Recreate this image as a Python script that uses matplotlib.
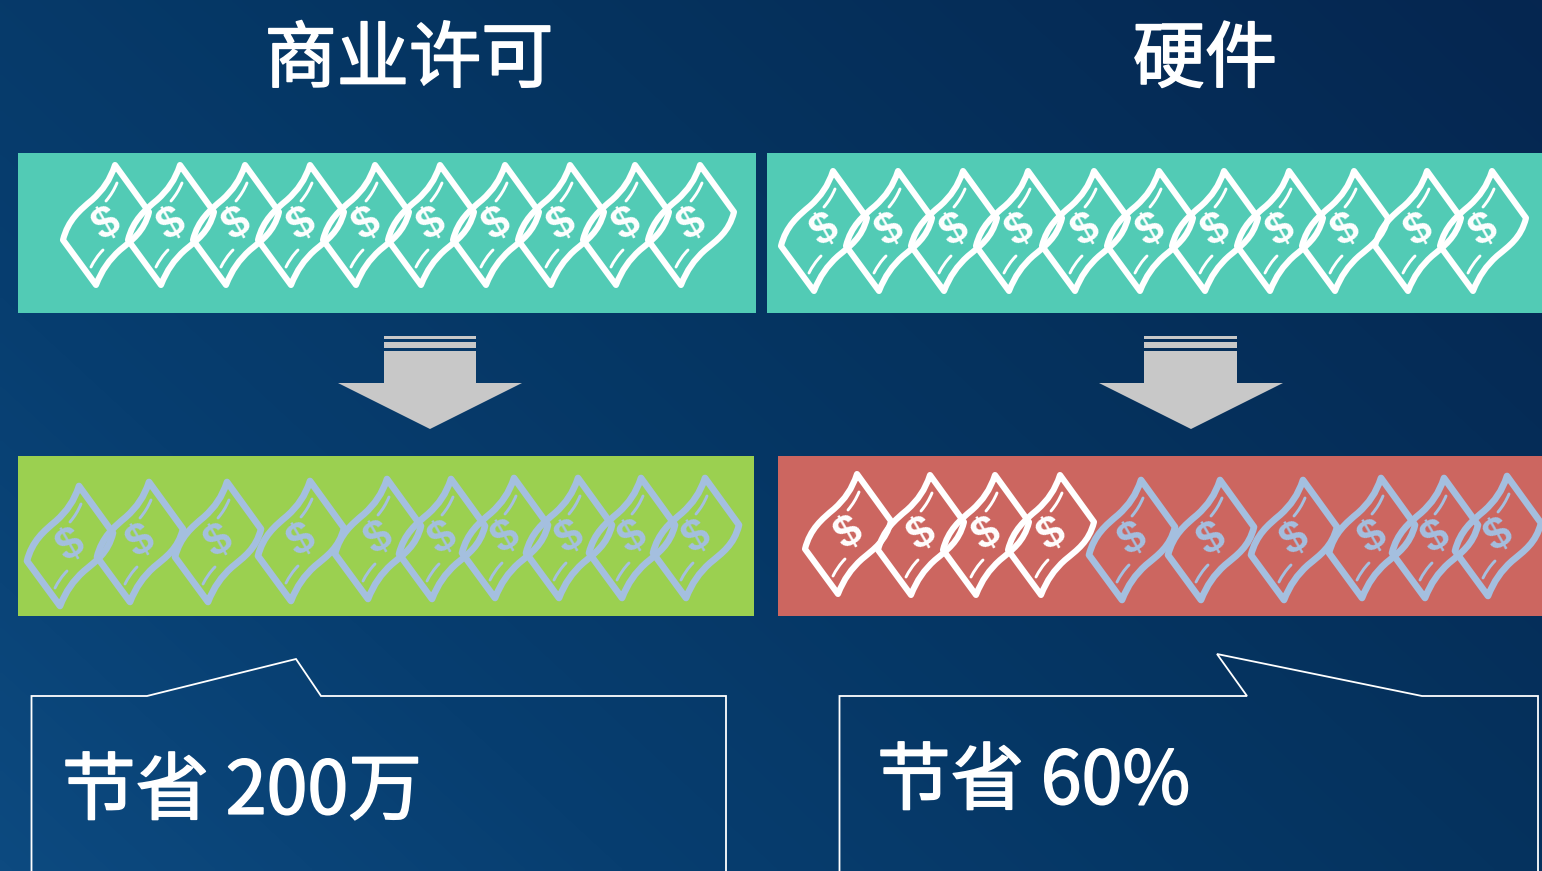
import numpy as np
import matplotlib
matplotlib.use("Agg")
import matplotlib.pyplot as plt
import matplotlib.patheffects as pe
from matplotlib.colors import LinearSegmentedColormap
from matplotlib.patches import PathPatch, Polygon, Rectangle
from matplotlib.path import Path

plt.rcParams['font.family'] = ['Noto Sans CJK SC', 'DejaVu Sans']

W, H = 1542, 871
WHITE = "#FFFFFF"
BLUE = "#A4BFDF"
TEAL = "#52CBB5"
GREEN = "#9BD050"
RED = "#CC6660"
GRAY = "#C8C8C8"

# Panel headings and savings statements
titles = ["商业许可", "硬件"]
title_x = [409, 1205]
savings = ["节省 200万", "节省 60%"]
savings_xy = [(62, 793), (877, 783)]

# Coloured bands: left, top, right, bottom, colour
bands = [
    (18, 153, 756, 313, TEAL),
    (767, 153, 1542, 313, TEAL),
    (18, 456, 754, 616, GREEN),
    (778, 456, 1542, 616, RED),
]

# Banknote rows
before_left_x = [106, 171, 236, 301, 366, 431, 496, 561, 626, 691]
before_right_x = [824, 889, 954, 1019, 1085, 1150, 1215, 1280, 1345, 1418, 1483]
after_left_x = [70, 140, 218, 301, 378, 442, 505, 569, 632, 696]
after_left_y = [546, 542, 542, 541, 539, 539, 538, 538, 538, 538]
after_right_kept_x = [848, 921, 986, 1051]
after_right_kept_y = [534, 535, 535, 535]
after_right_saved_x = [1132, 1211, 1294, 1372, 1435, 1498]
after_right_saved_y = [540, 540, 540, 538, 538, 536]

# Down arrows: shaft left, shaft right, head left, head right
arrows = [(384, 476, 338, 522), (1144, 1237, 1099, 1283)]

# Speech-bubble outlines
bubble_left = [(31.5, 871), (31.5, 696), (147, 696), (296, 659), (321, 696), (726, 696), (726, 871)]
bubble_right = [(839.5, 871), (839.5, 696), (1247, 696), (1217, 654), (1422, 696), (1538, 696), (1538, 871)]

fig = plt.figure(figsize=(W / 100, H / 100), dpi=100)
ax = fig.add_axes([0, 0, 1, 1])
ax.set_xlim(0, W)
ax.set_ylim(H, 0)
ax.axis("off")

# Diagonal background wash, lightest at the lower left
yy, xx = np.mgrid[0:1:218j, 0:1:386j]
wash = 0.62 * xx + 0.38 * (1 - yy)
cmap = LinearSegmentedColormap.from_list(
    "wash", [(0, "#0D4A80"), (0.25, "#073E70"), (0.6, "#05335F"), (1, "#062650")])
ax.imshow(wash, extent=(0, W, H, 0), cmap=cmap, aspect="auto", zorder=0,
          interpolation="bilinear")

for x0, y0, x1, y1, color in bands:
    ax.add_patch(Rectangle((x0, y0), x1 - x0, y1 - y0, fc=color, ec="none", zorder=1))


def outline_path():
    verts = [(-43, 15),
             (-38, -5), (-26, -15), (-14, -25),
             (-3, -35), (4, -45), (9, -60),
             (43, -13),
             (38, 7), (26, 15), (14, 25),
             (3, 35), (-4, 45), (-10, 60),
             (-43, 15)]
    codes = [Path.MOVETO,
             Path.CURVE4, Path.CURVE4, Path.CURVE4,
             Path.CURVE4, Path.CURVE4, Path.CURVE4,
             Path.LINETO,
             Path.CURVE4, Path.CURVE4, Path.CURVE4,
             Path.CURVE4, Path.CURVE4, Path.CURVE4,
             Path.CLOSEPOLY]
    return np.array(verts, float), codes


def stroke_paths():
    upper = [(0, -24), (5, -30), (8, -35), (11, -42)]
    lower = [(-15, 42), (-12, 36), (-8, 30), (-3, 25)]
    codes = [Path.MOVETO, Path.CURVE4, Path.CURVE4, Path.CURVE4]
    return [(np.array(upper, float), codes), (np.array(lower, float), codes)]


def banknote(cx, cy, color, lw=4.4):
    verts, codes = outline_path()
    ax.add_patch(PathPatch(Path(verts + (cx, cy), codes), fc="none", ec=color,
                           lw=lw, joinstyle="round", capstyle="round", zorder=3))
    for v, c in stroke_paths():
        ax.add_patch(PathPatch(Path(v + (cx, cy), c), fc="none", ec=color,
                               lw=2.1, capstyle="round", zorder=3))
    ax.text(cx + 1, cy, "$", color=color, fontsize=32, fontweight="bold",
            family=["Liberation Sans Narrow", "Liberation Sans"], rotation=30,
            ha="center", va="center", rotation_mode="anchor",
            parse_math=False, zorder=4)


for x in before_left_x:
    banknote(x, 225, WHITE)
for x in before_right_x:
    banknote(x, 231, WHITE)
for x, y in zip(after_left_x, after_left_y):
    banknote(x, y, BLUE, lw=4.8)
for x, y in zip(after_right_saved_x, after_right_saved_y):
    banknote(x, y, BLUE, lw=4.8)
for x, y in zip(after_right_kept_x, after_right_kept_y):
    banknote(x, y, WHITE)

for sl, sr, hl, hr in arrows:
    ax.add_patch(Rectangle((sl, 336), sr - sl, 3, fc=GRAY, ec="none", zorder=2))
    ax.add_patch(Rectangle((sl, 342), sr - sl, 6, fc=GRAY, ec="none", zorder=2))
    ax.add_patch(Polygon([(sl, 351), (sr, 351), (sr, 383), (hr, 383),
                          ((hl + hr) / 2, 429), (hl, 383), (sl, 383)],
                         closed=True, fc=GRAY, ec="none", zorder=2))

for shape in (bubble_left, bubble_right):
    px, py = zip(*shape)
    ax.plot(px, py, color=WHITE, lw=1.3, solid_joinstyle="miter", zorder=2)

# A thin white stroke brings the regular weight up to the heavier headline look
heavy = [pe.withStroke(linewidth=1.2, foreground=WHITE)]
for label, x in zip(titles, title_x):
    ax.text(x, 61, label, color=WHITE, fontsize=52, fontweight="regular",
            ha="center", va="center", path_effects=heavy, zorder=5)
for label, (x, y) in zip(savings, savings_xy):
    ax.text(x, y, label, color=WHITE, fontsize=53, fontweight="regular",
            ha="left", va="center", path_effects=heavy, zorder=5)

fig.savefig("out.png", dpi=100)
